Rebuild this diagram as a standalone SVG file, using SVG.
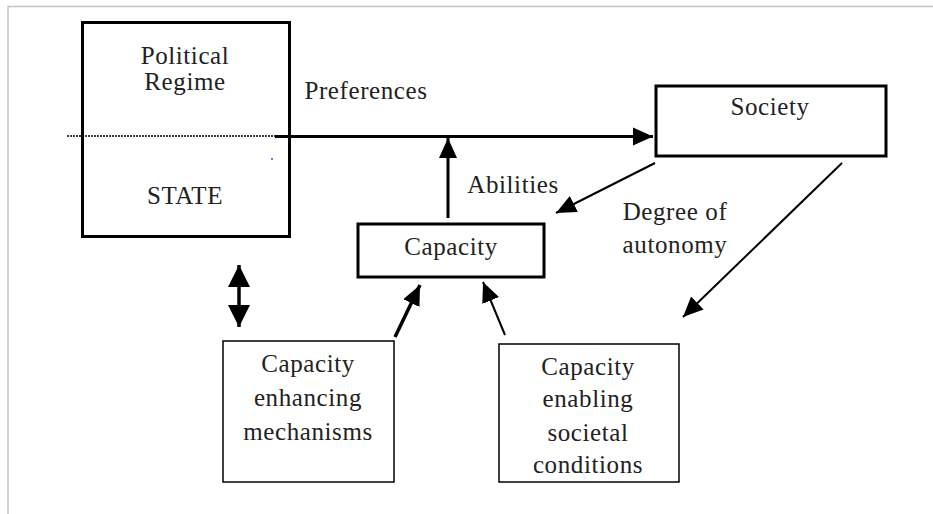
<svg xmlns="http://www.w3.org/2000/svg" width="933" height="514" viewBox="0 0 933 514">
<style>
text{font-family:"Liberation Serif","Times New Roman",serif;font-size:25px;fill:#222;text-anchor:middle;letter-spacing:0.6px}
.thick{fill:none;stroke:#000;stroke-width:3}
.thin{fill:none;stroke:#000;stroke-width:1.5}
.line{stroke:#000;fill:none}
</style>
<defs>
<marker id="ah" markerUnits="userSpaceOnUse" markerWidth="22" markerHeight="20" refX="20" refY="10" orient="auto">
<path d="M0,1 L20,10 L0,19 Z" fill="#000"/>
</marker>
<marker id="ahs" markerUnits="userSpaceOnUse" markerWidth="22" markerHeight="24" refX="22" refY="12" orient="auto-start-reverse">
<path d="M0,1 L22,12 L0,23 Z" fill="#000"/>
</marker>
</defs>
<path d="M8,514 V6.5 H933" fill="none" stroke="#c4c4c4" stroke-width="1.5"/>
<g id="state">
<rect class="thick" x="82.5" y="22.5" width="207" height="214"/>
<text x="185" y="64">Political</text>
<text x="185" y="90">Regime</text>
<text x="185" y="204">STATE</text>
<circle cx="272" cy="159" r="1" fill="#3a3aff"/>
</g>
<g id="society">
<rect class="thick" x="656" y="86" width="230" height="70"/>
<text x="770" y="115">Society</text>
</g>
<g id="capacity">
<rect class="thick" x="358" y="224" width="186" height="53"/>
<text x="451" y="255">Capacity</text>
</g>
<g id="enhancing">
<rect class="thin" x="223" y="341" width="171" height="141"/>
<text x="308" y="372">Capacity</text>
<text x="308" y="406">enhancing</text>
<text x="308" y="440">mechanisms</text>
</g>
<g id="enabling">
<rect class="thin" x="499" y="344" width="180" height="138"/>
<text x="588" y="375">Capacity</text>
<text x="588" y="407">enabling</text>
<text x="588" y="441">societal</text>
<text x="588" y="473">conditions</text>
</g>
<g id="labels">
<text x="366" y="99">Preferences</text>
<text x="513" y="193">Abilities</text>
<text x="675" y="220">Degree of</text>
<text x="675" y="253">autonomy</text>
</g>
<g id="connectors">
<line x1="67" y1="136" x2="275" y2="136" stroke="#000" stroke-width="1.5" stroke-dasharray="2,1"/>
<line class="line" x1="275" y1="136.5" x2="653" y2="136.5" stroke-width="3" marker-end="url(#ah)"/>
<line class="line" x1="448" y1="218" x2="448" y2="138" stroke-width="3" marker-end="url(#ah)"/>
<line class="line" x1="655" y1="163" x2="556" y2="213" stroke-width="2" marker-end="url(#ah)"/>
<line class="line" x1="842" y1="163" x2="683" y2="317" stroke-width="2" marker-end="url(#ah)"/>
<line class="line" x1="239" y1="265" x2="239" y2="327" stroke-width="3.5" marker-start="url(#ahs)" marker-end="url(#ahs)"/>
<line class="line" x1="395" y1="337" x2="420" y2="285" stroke-width="3.5" marker-end="url(#ah)"/>
<line class="line" x1="505" y1="335" x2="483" y2="282" stroke-width="2" marker-end="url(#ah)"/>
</g>
</svg>
